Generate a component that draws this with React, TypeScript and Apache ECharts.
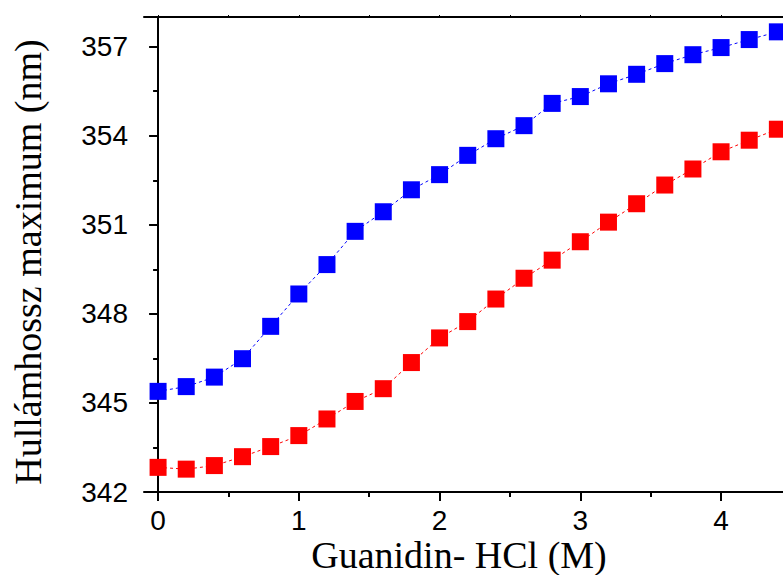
import React, { useEffect, useRef } from "react";
import * as echarts from "echarts";

const xValues = [0, 0.2, 0.4, 0.6, 0.8, 1.0, 1.2, 1.4, 1.6, 1.8, 2.0, 2.2, 2.4, 2.6, 2.8, 3.0, 3.2, 3.4, 3.6, 3.8, 4.0, 4.2, 4.4];
const blueValues = [345.39, 345.55, 345.87, 346.49, 347.58, 348.67, 349.66, 350.78, 351.44, 352.18, 352.69, 353.34, 353.9, 354.34, 355.09, 355.32, 355.75, 356.07, 356.43, 356.73, 356.97, 357.24, 357.5];
const redValues = [342.83, 342.77, 342.89, 343.19, 343.53, 343.9, 344.46, 345.05, 345.48, 346.36, 347.19, 347.74, 348.5, 349.2, 349.81, 350.43, 351.09, 351.71, 352.34, 352.88, 353.46, 353.85, 354.22];
const xTickLabels = [0, 1, 2, 3, 4];
const xMinorTicks = [0.5, 1.5, 2.5, 3.5];
const xTopTicks = [0, 0.5, 1, 1.5, 2, 2.5, 3, 3.5, 4];
const yTickLabels = [342, 345, 348, 351, 354, 357];
const yMinorTicks = [343.5, 346.5, 349.5, 352.5, 355.5];
const xTitle = "Guanidin- HCl (M)";
const yTitle = "Hullámhossz maximum (nm)";

export default function App() {
  const ref = useRef<HTMLDivElement>(null);
  useEffect(() => {
    if (!ref.current) return;
    const chart = echarts.init(ref.current, null, { renderer: "svg" });
    const labelFont = { fontFamily: "Arial, 'Liberation Sans', sans-serif", fontSize: 28, color: "#000" };
    const xBase = { type: "value" as const, min: -0.1, max: 4.44, splitLine: { show: false } };
    const yBase = { type: "value" as const, min: 342, max: 358, splitLine: { show: false } };
    chart.setOption({
      animation: false,
      backgroundColor: "#fff",
      grid: { left: 144, top: 17, right: 0, bottom: 83, containLabel: false },
      xAxis: [
        {
          ...xBase,
          position: "bottom",
          axisLine: { show: true, lineStyle: { color: "#000", width: 2 } },
          axisTick: { show: true, customValues: xTickLabels, length: 9, lineStyle: { color: "#000", width: 2 } },
          axisLabel: { show: true, customValues: xTickLabels, margin: 14, ...labelFont },
        },
        {
          ...xBase,
          position: "bottom",
          axisLine: { show: false },
          axisTick: { show: true, customValues: xMinorTicks, length: 5, lineStyle: { color: "#000", width: 2 } },
          axisLabel: { show: false },
        },
        {
          ...xBase,
          position: "top",
          axisLine: { show: true, lineStyle: { color: "#000", width: 2 } },
          axisTick: { show: true, customValues: xTopTicks, length: 2, lineStyle: { color: "#000", width: 1 } },
          axisLabel: { show: false },
        },
      ],
      yAxis: [
        {
          ...yBase,
          position: "left",
          axisLine: { show: true, lineStyle: { color: "#000", width: 2 } },
          axisTick: { show: true, customValues: yTickLabels, length: 9, lineStyle: { color: "#000", width: 2 } },
          axisLabel: { show: true, customValues: yTickLabels, margin: 16, ...labelFont },
        },
        {
          ...yBase,
          position: "left",
          axisLine: { show: false },
          axisTick: { show: true, customValues: yMinorTicks, length: 5, lineStyle: { color: "#000", width: 2 } },
          axisLabel: { show: false },
        },
      ],
      series: [
        {
          type: "line",
          xAxisIndex: 0,
          yAxisIndex: 0,
          data: xValues.map((x, i) => [x, blueValues[i]]),
          symbol: "rect",
          symbolSize: 17,
          itemStyle: { color: "#0000ff" },
          lineStyle: { color: "#0000ff", width: 1, type: [3, 3] },
          z: 3,
        },
        {
          type: "line",
          xAxisIndex: 0,
          yAxisIndex: 0,
          data: xValues.map((x, i) => [x, redValues[i]]),
          symbol: "rect",
          symbolSize: 17,
          itemStyle: { color: "#ff0000" },
          lineStyle: { color: "#ff0000", width: 1, type: [3, 3] },
          z: 3,
        },
      ],
      graphic: [
        {
          type: "text",
          x: 459,
          y: 555,
          style: {
            text: xTitle,
            font: "38px 'Times New Roman', 'Liberation Serif', serif",
            fill: "#000",
            textAlign: "center",
            textVerticalAlign: "middle",
          },
        },
        {
          type: "text",
          x: 28,
          y: 262,
          rotation: Math.PI / 2,
          style: {
            text: yTitle,
            font: "38px 'Times New Roman', 'Liberation Serif', serif",
            fill: "#000",
            textAlign: "center",
            textVerticalAlign: "middle",
          },
        },
      ],
    });
    return () => chart.dispose();
  }, []);
  return (
    <div
      ref={ref}
      style={{ position: "fixed", left: 0, top: 0, width: 783, height: 575, background: "#fff" }}
    />
  );
}
